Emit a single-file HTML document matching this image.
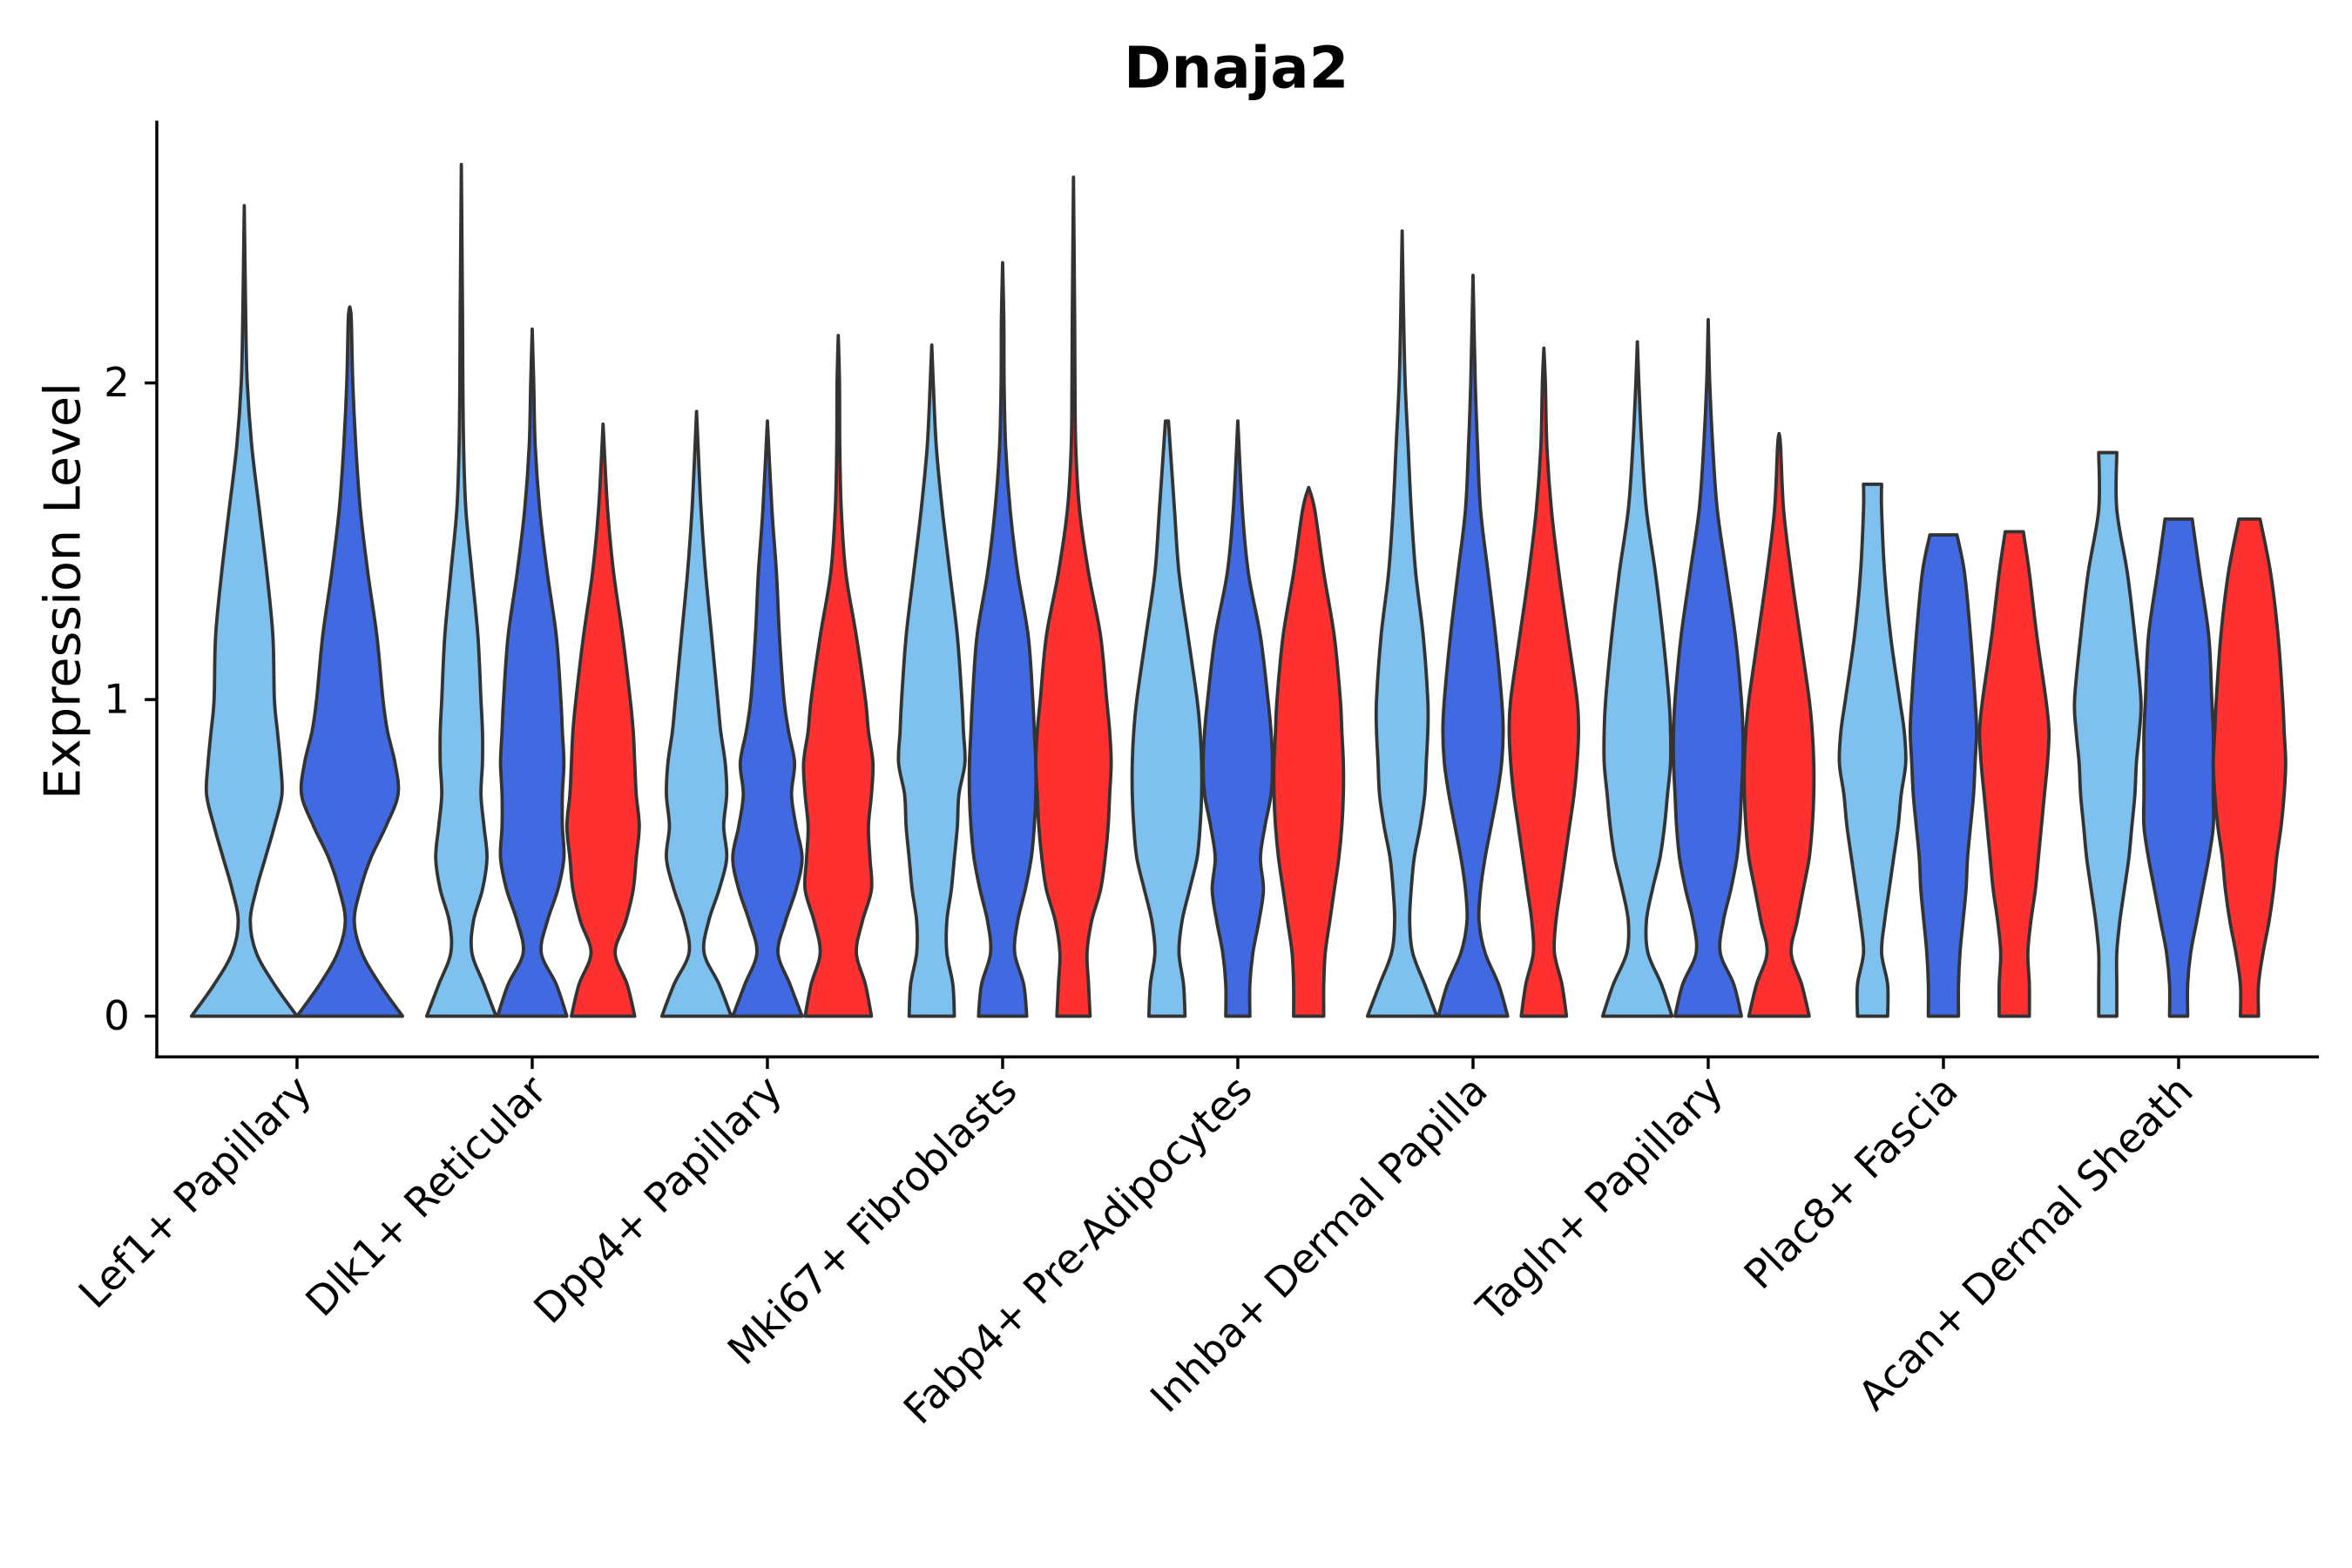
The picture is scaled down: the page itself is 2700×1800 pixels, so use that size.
<!DOCTYPE html>
<html><head><meta charset="utf-8"><style>html,body{margin:0;padding:0;background:#fff}svg{display:block}text{font-family:"DejaVu Sans","Liberation Sans",sans-serif}</style></head>
<body>
<svg id="chart" width="2700" height="1800" viewBox="0 0 1560 1040" xmlns="http://www.w3.org/2000/svg">
<text x="820" y="58" font-size="38" font-weight="bold" text-anchor="middle">Dnaja2</text>
<text transform="translate(53,392) rotate(-90)" font-size="33" text-anchor="middle">Expression Level</text>
<g id="marks"></g>
<line x1="104" y1="80" x2="104" y2="702" stroke="#000" stroke-width="2"/>
<line x1="103" y1="701" x2="1538" y2="701" stroke="#000" stroke-width="2"/>
<g id="axes"></g>
</svg>
<script>
const categories = ["Lef1+ Papillary","Dlk1+ Reticular","Dpp4+ Papillary","Mki67+ Fibroblasts","Fabp4+ Pre-Adipocytes","Inhba+ Dermal Papilla","Tagln+ Papillary","Plac8+ Fascia","Acan+ Dermal Sheath"];
const yTicks = [0,1,2];
const levels = [0,0.1,0.2,0.3,0.4,0.5,0.6,0.7,0.8,0.9,1.0,1.2,1.4,1.6,1.8,2.0,2.2];
const violinGroup = [0,0,1,1,1,2,2,2,3,3,3,4,4,4,5,5,5,6,6,6,7,7,7,8,8,8];
const violinSeries = [0,1,0,1,2,0,1,2,0,1,2,0,1,2,0,1,2,0,1,2,0,1,2,0,1,2];
const violinMax = [2.56,2.24,2.69,2.17,1.87,1.91,1.88,2.15,2.12,2.38,2.65,1.88,1.88,1.67,2.48,2.34,2.11,2.13,2.2,1.84,1.68,1.52,1.53,1.78,1.57,1.57];
const violinTopWidth = [0,0,0,0,0,0,0,0,0,0,0,1,0,0,0,0,0,0,0,0,6,9,6,6,9,7];
const violinDensity = [
[35,20,8,4,8,14,20,25,24,22,20,19,15,10,5,2,1],
[35,20,8,3,7,14,24,32,30,25,22,18,12,7,4,2,1],
[23,15,7,8,14,17,15,13,14,14,13,11,7,3,1.5,1,0.8],
[23,16,6,10,17,21,20,20,21,20,19,16,10,5,2,1],
[21,16,8,15,20,22,24,22,21,20,18,13,7,3],
[23,15,5,8,15,20,18,20,19,16,14,10,6,3,1],
[23,15,7,12,19,23,19,16,18,14,11,8,6,3],
[22,18,12,16,22,21,20,22,23,20,18,12,5,2,1,0.8],
[15,14,10,10,13,15,17,18,22,21,20,17,12,7,3,1],
[16,14,8,10,15,19,21,22,22,21,20,17,10,5,2,1,0.8],
[11,10,9,12,18,21,23,24,25,24,22,18,10,4,1.5,1,0.8],
[12,11,8,10,15,20,22,23,23,22,20,14,8,5],
[8,8,10,14,17,15,18,22,23,22,20,15,7,3],
[10,10,11,14,17,20,22,23,23,22,21,17,10,4],
[23,15,7,5,6,8,12,15,16,17,17,14,9,6,4,2,1],
[23,17,8,4,5,8,12,16,19,20,19,15,10,5,3,1.5],
[15,12,7,8,11,14,17,20,22,23,22,16,10,5,2,1],
[23,16,7,6,10,15,18,20,22,22,21,17,12,6,3,1],
[22,17,8,10,15,19,21,22,23,23,22,18,12,6,3,1,0.8],
[20,15,8,12,16,20,22,23,23,22,20,14,8,3,1],
[10,10,6,8,11,14,17,19,22,21,18,12,8,6],
[10,10,11,13,15,16,18,20,21,22,21,18,14],
[10,10,9,11,14,16,18,20,22,23,21,15,10],
[6,6,6,8,11,14,16,18,19,21,22,18,13,6],
[6,6,8,12,16,20,23,23,23,23,22,20,14],
[6,6,9,13,16,18,21,23,24,23,22,19,14]
];
const seriesColors = ["#7EC0EE","#4169E1","#FF3030"];

const xStart=197, xStep=156, seriesOffset=[-47,0,47];
function xScale(i){return xStart+i*xStep;}
function yScale(v){return 674 - v*210;}
const NS="http://www.w3.org/2000/svg";
const marks=document.getElementById('marks');
const axes=document.getElementById('axes');

function smoothPath(pts){
  let d="";
  for(let i=0;i<pts.length;i++){
    const p=pts[i];
    if(i===0){d+="M"+p[0]+","+p[1];continue;}
    const p0=pts[Math.max(0,i-2)],p1=pts[i-1],p2=p,p3=pts[Math.min(pts.length-1,i+1)];
    const c1=[p1[0]+(p2[0]-p0[0])/6,p1[1]+(p2[1]-p0[1])/6];
    const c2=[p2[0]-(p3[0]-p1[0])/6,p2[1]-(p3[1]-p1[1])/6];
    d+=" C"+c1[0].toFixed(2)+","+c1[1].toFixed(2)+" "+c2[0].toFixed(2)+","+c2[1].toFixed(2)+" "+p2[0].toFixed(2)+","+p2[1].toFixed(2);
  }
  return d;
}

for(let k=0;k<violinDensity.length;k++){
  const g=violinGroup[k], s=violinSeries[k];
  let cx=xScale(g)+seriesOffset[s];
  if(g===0) cx=xScale(g)+(s===0?-35:35);
  const dens=violinDensity[k], mx=violinMax[k], tw=violinTopWidth[k];
  const prof=[];
  for(let i=0;i<dens.length && levels[i]<mx;i++) prof.push([levels[i],dens[i]]);
  prof.push([mx,tw]);
  const right=prof.map(p=>[cx+p[1],yScale(p[0])]);
  const left=prof.slice().reverse().map(p=>[cx-p[1],yScale(p[0])]);
  let d=smoothPath(right);
  d+=" L"+left[0][0]+","+left[0][1];
  const ld=smoothPath(left);
  d+=" "+ld.replace(/^M[^ ]+/,"")+" Z";
  const path=document.createElementNS(NS,'path');
  path.setAttribute('d',d);
  path.setAttribute('fill',seriesColors[s]);
  path.setAttribute('stroke','#333');
  path.setAttribute('stroke-width','2.2');
  path.setAttribute('stroke-linejoin','round');
  
  
  marks.appendChild(path);
}

yTicks.forEach(t=>{
  const y=yScale(t);
  const ln=document.createElementNS(NS,'line');
  ln.setAttribute('x1',96);ln.setAttribute('x2',104);ln.setAttribute('y1',y);ln.setAttribute('y2',y);
  ln.setAttribute('stroke','#000');ln.setAttribute('stroke-width','2');
  
  
  axes.appendChild(ln);
  const tx=document.createElementNS(NS,'text');
  tx.setAttribute('x',86);tx.setAttribute('y',y+9);tx.setAttribute('font-size','27');tx.setAttribute('text-anchor','end');
  tx.textContent=t;
  
  
  axes.appendChild(tx);
});
categories.forEach((c,i)=>{
  const x=xScale(i);
  const ln=document.createElementNS(NS,'line');
  ln.setAttribute('x1',x);ln.setAttribute('x2',x);ln.setAttribute('y1',701);ln.setAttribute('y2',709);
  ln.setAttribute('stroke','#000');ln.setAttribute('stroke-width','2');
  
  
  axes.appendChild(ln);
  const tx=document.createElementNS(NS,'text');
  tx.setAttribute('transform','translate('+(x+11)+',725) rotate(-45)');
  tx.setAttribute('font-size','27');tx.setAttribute('text-anchor','end');
  tx.textContent=c;
  
  
  axes.appendChild(tx);
});
</script>
</body></html>
